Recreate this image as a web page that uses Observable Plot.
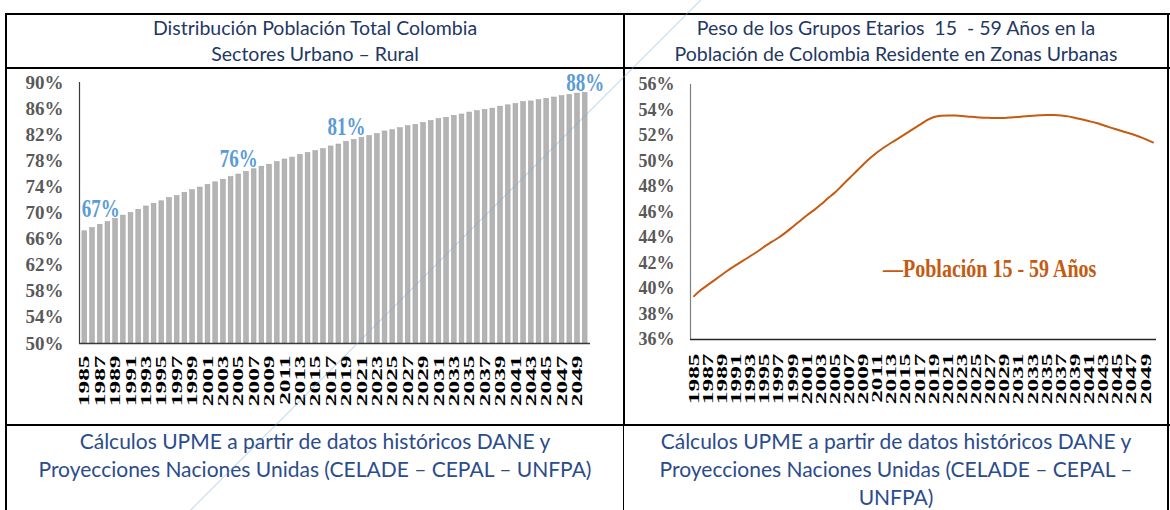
<!DOCTYPE html>
<html><head><meta charset="utf-8">
<script src="https://cdn.jsdelivr.net/npm/d3@7"></script>
<script src="https://cdn.jsdelivr.net/npm/@observablehq/plot@0.6"></script>
<style>
body{margin:0;background:#fff;}
#root{position:relative;width:1170px;height:510px;overflow:hidden;font-family:Lato,"Open Sans",sans-serif;background:#fff;}
.b{position:absolute;background:#000;}
.hdr{position:absolute;text-align:center;color:#1F3864;font-size:19.5px;line-height:26px;white-space:nowrap;}
.ftr{position:absolute;text-align:center;color:#2B4C8C;font-size:21px;line-height:28px;}
.chart{position:absolute;}
#legend{position:absolute;left:883px;top:254px;font-family:"Liberation Serif",serif;font-weight:bold;font-size:20px;color:#C55A11;white-space:nowrap;transform:scaleY(1.3);transform-origin:left center;line-height:28px;}
#deco{position:absolute;left:190px;top:510px;width:722px;height:1px;background:rgba(120,170,222,0.45);transform:rotate(-45deg);transform-origin:0 0;}
</style></head><body>
<div id="root">
  <div class="hdr" style="left:6px;width:618px;top:15px;">Distribución Población Total Colombia<br>Sectores Urbano – Rural</div>
  <div class="hdr" style="left:624px;width:544px;top:15px;">Peso de los Grupos Etarios&nbsp; 15&nbsp; - 59 Años en la<br>Población de Colombia Residente en Zonas Urbanas</div>
  <div class="chart" id="c1" style="left:0px;top:68px;"></div>
  <div class="chart" id="c2" style="left:624px;top:68px;"></div>
  <div id="legend">—Población 15 - 59 Años</div>
  <div class="ftr" style="left:6px;width:618px;top:427px;">Cálculos UPME a partir de datos históricos DANE y<br>Proyecciones Naciones Unidas (CELADE – CEPAL – UNFPA)</div>
  <div class="ftr" style="left:624px;width:544px;top:427px;">Cálculos UPME a partir de datos históricos DANE y<br>Proyecciones Naciones Unidas (CELADE – CEPAL –<br>UNFPA)</div>
  <div class="b" style="left:5px;top:13px;width:1165px;height:2px;"></div>
  <div class="b" style="left:5px;top:67px;width:1165px;height:2px;"></div>
  <div class="b" style="left:5px;top:424px;width:1165px;height:2px;"></div>
  <div class="b" style="left:5px;top:13px;width:2px;height:497px;"></div>
  <div class="b" style="left:623px;top:13px;width:2px;height:413px;"></div>
  <div class="b" style="left:623px;top:426px;width:1px;height:84px;"></div>
  <div class="b" style="left:1167px;top:13px;width:2px;height:497px;"></div>
  <div id="deco"></div>
</div>
<script>
// Categories
const years = [1985,1986,1987,1988,1989,1990,1991,1992,1993,1994,1995,1996,1997,1998,1999,2000,2001,2002,2003,2004,2005,2006,2007,2008,2009,2010,2011,2012,2013,2014,2015,2016,2017,2018,2019,2020,2021,2022,2023,2024,2025,2026,2027,2028,2029,2030,2031,2032,2033,2034,2035,2036,2037,2038,2039,2040,2041,2042,2043,2044,2045,2046,2047,2048,2049,2050];
// Urban share of total population (%)
const urbanShare = [67.2,67.7,68.2,68.6,69.1,69.6,70.0,70.5,71.0,71.4,71.8,72.3,72.6,73.1,73.5,73.9,74.3,74.7,75.1,75.5,75.9,76.3,76.7,77.1,77.4,77.8,78.2,78.5,78.9,79.2,79.5,79.8,80.2,80.5,80.9,81.2,81.5,81.8,82.1,82.5,82.7,83.0,83.3,83.5,83.8,84.1,84.4,84.6,84.9,85.1,85.4,85.6,85.8,86.0,86.3,86.5,86.7,87.0,87.1,87.3,87.5,87.7,87.9,88.1,88.3,88.4];
// Share of 15-59 age group in urban population (%)
const share1559 = [39.4,39.9,40.3,40.7,41.1,41.5,41.85,42.2,42.55,42.9,43.3,43.65,44.0,44.4,44.85,45.3,45.75,46.15,46.6,47.1,47.55,48.1,48.65,49.2,49.75,50.25,50.7,51.1,51.45,51.8,52.15,52.5,52.85,53.2,53.45,53.55,53.57,53.56,53.53,53.48,53.43,53.4,53.38,53.37,53.38,53.42,53.46,53.51,53.55,53.58,53.6,53.6,53.57,53.5,53.38,53.25,53.12,52.98,52.8,52.62,52.45,52.28,52.12,51.92,51.7,51.46];
// Tick labels
const tickYearsLeft = [1985,1987,1989,1991,1993,1995,1997,1999,2001,2003,2005,2007,2009,2011,2013,2015,2017,2019,2021,2023,2025,2027,2029,2031,2033,2035,2037,2039,2041,2043,2045,2047,2049];
const tickYearsRight = tickYearsLeft;
const yTicksLeft = [50,54,58,62,66,70,74,78,82,86,90];
const yTicksRight = [36,38,40,42,44,46,48,50,52,54,56];
// Data labels
const labelYears = [1985,2005,2019,2050];
const labelTexts = ["67%","76%","81%","88%"];

const barData = years.map((y,i)=>({year:y, v:urbanShare[i]}));
const lineData = years.map((y,i)=>({year:y, v:share1559[i]}));
const labelData = labelYears.map((y,i)=>({year:y, v:urbanShare[years.indexOf(y)], t:labelTexts[i]}));

function scaleText(t, sx, sy){
  const tr = t.getAttribute("transform");
  if (tr) { t.setAttribute("transform", tr + ` scale(${sx},${sy})`); }
  else {
    const x = +(t.getAttribute("x")||0), y = +(t.getAttribute("y")||0);
    t.removeAttribute("x"); t.removeAttribute("y");
    t.setAttribute("transform", `translate(${x},${y}) scale(${sx},${sy})`);
  }
}

const serif = "Liberation Serif, Times New Roman, serif";

const left = Plot.plot({
  width: 620, height: 357,
  marginLeft: 79, marginRight: 30, marginTop: 14, marginBottom: 82,
  style: {background: "transparent", fontFamily: serif, overflow: "visible"},
  x: {type: "band", domain: years, padding: 0.38, label: null},
  y: {domain: [yTicksLeft[0], yTicksLeft[yTicksLeft.length-1]], label: null},
  marks: [
    Plot.barY(barData, {x: "year", y1: yTicksLeft[0], y2: "v", fill: "#b4b4b4", stroke: "#a0a0a0", strokeWidth: 0.5}),
    Plot.frame({anchor: "left", stroke: "#3a3a3a", strokeWidth: 1.2}),
    Plot.ruleY([yTicksLeft[0]], {stroke: "#3a3a3a", strokeWidth: 1.5}),
    Plot.axisY({ticks: yTicksLeft, tickFormat: d => d + "%", tickSize: 0, tickPadding: 16, fontSize: 19, fontWeight: "bold", fontFamily: serif, fill: "#595959", label: null}),
    Plot.axisX({ticks: tickYearsLeft, tickFormat: d => String(d), tickRotate: -90, tickSize: 0, tickPadding: 12, fontSize: 14.5, fontWeight: "bold", fontFamily: serif, fill: "#000", label: null}),
    Plot.text(labelData.filter((d,i)=>i===0), {x: "year", y: "v", text: "t", textAnchor: "start", dx: -3, dy: -22, fontSize: 19, fontWeight: "bold", fontFamily: serif, fill: "#5B9BD5"}),
    Plot.text(labelData.filter((d,i)=>i>0 && i<labelData.length-1), {x: "year", y: "v", text: "t", dy: -15, fontSize: 19, fontWeight: "bold", fontFamily: serif, fill: "#5B9BD5"}),
    Plot.text(labelData.filter((d,i)=>i===labelData.length-1), {x: "year", y: "v", text: "t", dy: -10, fontSize: 19, fontWeight: "bold", fontFamily: serif, fill: "#5B9BD5"})
  ]
});

const right = Plot.plot({
  width: 546, height: 357,
  marginLeft: 66, marginRight: 14, marginTop: 16, marginBottom: 86,
  style: {background: "transparent", fontFamily: serif, overflow: "visible"},
  x: {domain: [years[0]-0.5, years[years.length-1]+0.5], label: null},
  y: {domain: [yTicksRight[0], yTicksRight[yTicksRight.length-1]], label: null},
  marks: [
    Plot.ruleX([years[0]-0.5], {stroke: "#7f7f7f", strokeWidth: 1.2}),
    Plot.ruleY([yTicksRight[0]], {stroke: "#262626", strokeWidth: 1.3}),
    Plot.axisY({ticks: yTicksRight, tickFormat: d => d + "%", tickSize: 0, tickPadding: 16, fontSize: 18, fontWeight: "bold", fontFamily: serif, fill: "#595959", label: null}),
    Plot.axisX({ticks: tickYearsRight, tickFormat: d => String(d), tickRotate: -90, tickSize: 0, tickPadding: 14, fontSize: 14.5, fontWeight: "bold", fontFamily: serif, fill: "#000", label: null}),
    Plot.line(lineData, {x: "year", y: "v", stroke: "#C55A11", strokeWidth: 2, curve: "monotone-x"})
  ]
});

for (const svg of [left, right]) {
  svg.querySelectorAll('g[aria-label="x-axis tick label"] text').forEach(t => scaleText(t, 1.75, 1));
}
left.querySelectorAll('g[aria-label="text"] text').forEach(t => scaleText(t, 1, 1.3));

document.getElementById("c1").appendChild(left);
document.getElementById("c2").appendChild(right);
</script>
</body></html>
